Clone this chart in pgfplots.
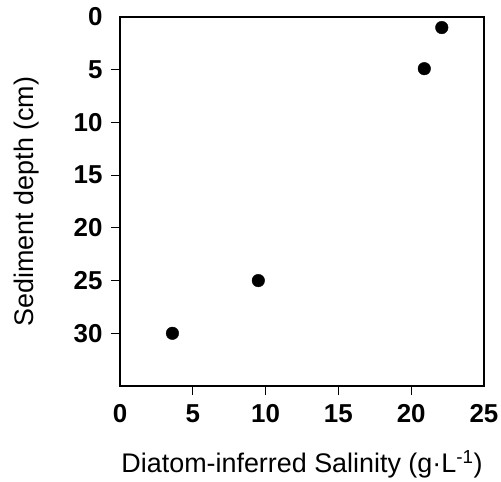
\documentclass[border=0pt]{standalone}
\usepackage{fontspec}
\setmainfont{Liberation Sans}
\usepackage{pgfplots}
\pgfplotsset{compat=1.18}
\begin{document}
\begin{tikzpicture}
\begin{axis}[
  scale only axis,
  width=364bp, height=369bp,
  xmin=0, xmax=25, ymin=0, ymax=35,
  y dir=reverse,
  axis line style={line width=1.1pt},
  tick style={line width=1.1pt, black},
  tick align=outside,
  major tick length=9bp,
  xtick pos=bottom, ytick pos=left,
  xtick={5,10,15,20},
  ytick={5,10,15,20,25,30},
  extra x ticks={0,25},
  extra y ticks={0},
  extra x tick style={major tick length=0pt, xticklabel style={yshift=-9bp}},
  extra y tick style={major tick length=0pt, yticklabel style={xshift=-9bp}},
  /pgf/number format/assume math mode=true,
  ticklabel style={font=\bfseries\fontsize{26}{26}\selectfont},
  xticklabel style={anchor=base, yshift=-27bp},
  yticklabel style={xshift=-5bp},
  every axis x label/.style={at={(rel axis cs:0.5,0)}, anchor=base, yshift=-86bp, font=\fontsize{27}{27}\selectfont},
  every axis y label/.style={at={(rel axis cs:0,0.5)}, xshift=-93bp, rotate=90, anchor=center, font=\fontsize{27}{27}\selectfont},
  xlabel={Diatom-inferred Salinity (g·L\textsuperscript{-1})},
  ylabel={Sediment depth (cm)},
  clip=false,
]
\addplot[only marks, mark=*, mark size=6.3bp, black] coordinates {
  (22.1,1) (20.9,4.9) (9.5,25) (3.6,30)
};
\end{axis}
\pgfresetboundingbox
\path ([shift={(-120bp,-96bp)}]current axis.south west) rectangle ([shift={(17bp,17bp)}]current axis.north east);
\end{tikzpicture}
\end{document}
